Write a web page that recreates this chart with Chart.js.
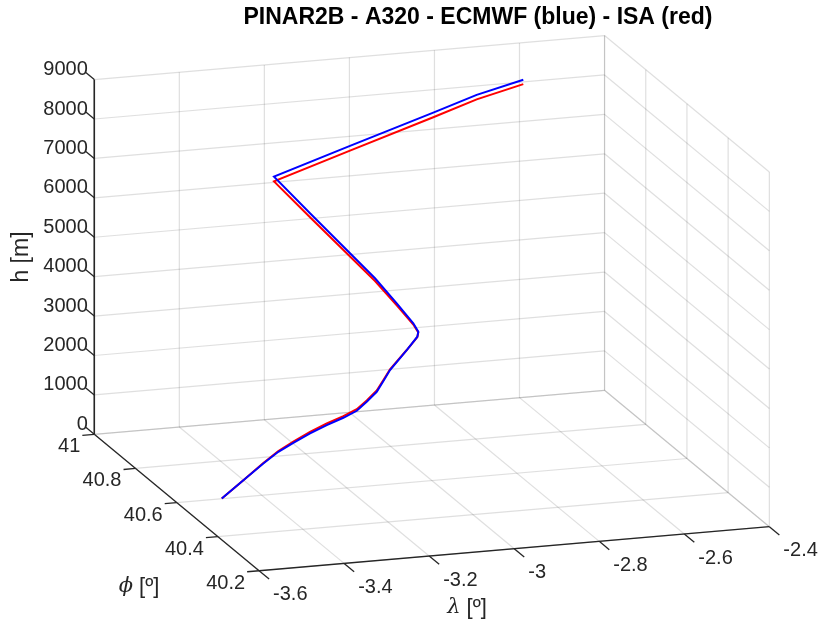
<!DOCTYPE html>
<html>
<head>
<meta charset="utf-8">
<script src="https://cdn.jsdelivr.net/npm/chart.js@4.4.0/dist/chart.umd.min.js"></script>
<style>
  html, body { margin: 0; padding: 0; background: #fff; }
  #wrap { width: 821px; height: 624px; }
</style>
</head>
<body>
<div id="wrap"><canvas id="c" width="821" height="624"></canvas></div>
<script>
// PINAR2B departure, A320 - longitude [deg], latitude [deg], altitude [m]
const lambdaDeg = [-3.5574, -3.4967, -3.4416, -3.4000, -3.3652, -3.3257, -3.2890, -3.2501, -3.2187,
  -3.1946, -3.1678, -3.1424, -3.1242, -3.0777, -3.0513, -3.0465, -3.0558, -3.0751, -3.0976, -3.1270,
  -3.1701, -3.2134, -3.0435, -2.8564, -2.7589, -2.6616];
const phiDeg = [40.4691, 40.4895, 40.5064, 40.5193, 40.5184, 40.5188, 40.5134, 40.5132, 40.5129,
  40.5143, 40.5210, 40.5380, 40.5465, 40.5614, 40.5644, 40.5696, 40.5747, 40.6152, 40.6743, 40.7349,
  40.8402, 40.9256, 40.9074, 40.8893, 40.8798, 40.8544];
const hEcmwf = [630, 950, 1250, 1450, 1650, 1850, 2050, 2200, 2350, 2550, 2750, 2950, 3150, 3550, 3850,
  3950, 4150, 4500, 4900, 5300, 5900, 6500, 7200, 7950, 8350, 8750];
const hIsa = [630, 950, 1260, 1470, 1680, 1890, 2090, 2240, 2390, 2580, 2780, 2975, 3170, 3550, 3840,
  3930, 4120, 4450, 4830, 5220, 5800, 6380, 7080, 7830, 8235, 8640];

const lambdaTicks = [-3.6, -3.4, -3.2, -3, -2.8, -2.6, -2.4];
const phiTicks = [40.2, 40.4, 40.6, 40.8, 41];
const hTicks = [0, 1000, 2000, 3000, 4000, 5000, 6000, 7000, 8000, 9000];

const titleText = 'PINAR2B - A320 - ECMWF (blue) - ISA (red)';

// view(az, el) like matlab, box normalised to a unit cube
const az = -17.9 * Math.PI / 180;
const el = 22 * Math.PI / 180;
const lamLim = [-3.6, -2.4];
const phiLim = [40.2, 41];
const hLim = [0, 9000];

function project(lam, phi, h) {
  const u = (lam - lamLim[0]) / (lamLim[1] - lamLim[0]) - 0.5;
  const v = (phi - phiLim[0]) / (phiLim[1] - phiLim[0]) - 0.5;
  const w = (h - hLim[0]) / (hLim[1] - hLim[0]) - 0.5;
  return {
    x: Math.cos(az) * u + Math.sin(az) * v,
    y: -Math.sin(el) * Math.sin(az) * u + Math.sin(el) * Math.cos(az) * v + Math.cos(el) * w
  };
}

function toPoints(hs) {
  return lambdaDeg.map((l, i) => project(l, phiDeg[i], hs[i]));
}

const FONT = '"Liberation Sans", Arial, Helvetica, sans-serif';
const TXT = '#262626';

const box3d = {
  id: 'box3d',
  beforeDatasetsDraw(chart) {
    const ctx = chart.ctx;
    const sx = chart.scales.x, sy = chart.scales.y;
    const px = (l, p, h) => {
      const q = project(l, p, h);
      return [sx.getPixelForValue(q.x), sy.getPixelForValue(q.y)];
    };
    const seg = (a, b) => {
      ctx.beginPath();
      ctx.moveTo(a[0], a[1]);
      ctx.lineTo(b[0], b[1]);
      ctx.stroke();
    };
    const l0 = lamLim[0], l1 = lamLim[1], p0 = phiLim[0], p1 = phiLim[1], h0 = hLim[0], h1 = hLim[1];

    ctx.save();
    ctx.strokeStyle = 'rgba(38,38,38,0.15)';
    ctx.lineWidth = 1.2;
    // back wall (phi max)
    lambdaTicks.forEach(l => seg(px(l, p1, h0), px(l, p1, h1)));
    hTicks.forEach(h => seg(px(l0, p1, h), px(l1, p1, h)));
    // right wall (lambda max)
    phiTicks.forEach(p => seg(px(l1, p, h0), px(l1, p, h1)));
    hTicks.forEach(h => seg(px(l1, p0, h), px(l1, p1, h)));
    // floor
    lambdaTicks.forEach(l => seg(px(l, p0, h0), px(l, p1, h0)));
    phiTicks.forEach(p => seg(px(l0, p, h0), px(l1, p, h0)));

    // axis lines
    ctx.strokeStyle = TXT;
    ctx.lineWidth = 1.3;
    seg(px(l0, p0, h0), px(l1, p0, h0));
    seg(px(l0, p0, h0), px(l0, p1, h0));
    ctx.lineWidth = 1.6;
    seg(px(l0, p1, h0), px(l0, p1, h1));
    ctx.lineWidth = 1.3;

    const unit = (a, b, len) => {
      const dx = b[0] - a[0], dy = b[1] - a[1];
      const n = Math.hypot(dx, dy);
      return [dx / n * len, dy / n * len];
    };
    const dNegLam = unit(px(l1, p0, h0), px(l0, p0, h0), 12);
    const dNegPhi = unit(px(l0, p1, h0), px(l0, p0, h0), 13);
    const dPosPhi = unit(px(l0, p0, h0), px(l0, p1, h0), 11);

    ctx.font = '20px ' + FONT;
    ctx.fillStyle = TXT;
    ctx.textBaseline = 'middle';

    // lambda ticks
    ctx.textAlign = 'left';
    lambdaTicks.forEach(l => {
      const a = px(l, p0, h0);
      seg(a, [a[0] + dNegPhi[0], a[1] + dNegPhi[1]]);
      ctx.fillText(String(l), a[0] + 14, a[1] + 24);
    });
    // phi ticks
    ctx.textAlign = 'right';
    phiTicks.forEach(p => {
      const a = px(l0, p, h0);
      seg(a, [a[0] + dNegLam[0], a[1] + dNegLam[1]]);
      ctx.fillText(String(p), a[0] - 14, a[1] + 12.5);
    });
    // h ticks
    hTicks.forEach(h => {
      const a = px(l0, p1, h);
      seg(a, [a[0] + dPosPhi[0], a[1] + dPosPhi[1]]);
      ctx.fillText(String(h), a[0] - 6.5, a[1] - 10);
    });

    // axis titles
    const drawLabel = (greek, rest, cx, cy) => {
      const gFont = 'italic 21px "DejaVu Serif", "Liberation Serif", serif';
      const rFont = '22px ' + FONT;
      ctx.font = gFont;
      const gw = ctx.measureText(greek).width;
      ctx.font = rFont;
      const rw = ctx.measureText(rest).width;
      const x = cx - (gw + rw) / 2;
      ctx.textAlign = 'left';
      ctx.font = gFont;
      ctx.fillText(greek, x, cy);
      ctx.font = rFont;
      ctx.fillText(rest, x + gw, cy);
    };
    drawLabel('\u03d5', ' [\u00ba]', 139, 587);
    drawLabel('\u03bb', ' [\u00ba]', 467, 608);

    ctx.save();
    ctx.translate(22, 257);
    ctx.rotate(-Math.PI / 2);
    ctx.textAlign = 'center';
    ctx.font = '23px ' + FONT;
    ctx.fillText('h [m]', 0, 0);
    ctx.restore();

    // title
    ctx.fillStyle = '#000';
    ctx.font = 'bold 23px ' + FONT;
    ctx.textAlign = 'center';
    ctx.fillText(titleText, 478, 18);
    ctx.restore();
  }
};

new Chart(document.getElementById('c'), {
  type: 'scatter',
  data: {
    datasets: [
      {
        label: 'ECMWF',
        data: toPoints(hEcmwf),
        showLine: true,
        borderColor: '#0000ff',
        borderWidth: 2,
        pointRadius: 0,
        tension: 0
      },
      {
        label: 'ISA',
        data: toPoints(hIsa),
        showLine: true,
        borderColor: '#ff0000',
        borderWidth: 2,
        pointRadius: 0,
        tension: 0
      }
    ]
  },
  options: {
    responsive: false,
    animation: false,
    devicePixelRatio: 1,
    layout: { padding: 0 },
    scales: {
      x: { type: 'linear', display: false, min: -0.8053, max: 0.7258 },
      y: { type: 'linear', display: false, min: -0.8386, max: 0.7923 }
    },
    plugins: {
      legend: { display: false },
      tooltip: { enabled: false },
      title: { display: false }
    }
  },
  plugins: [box3d]
});
</script>
</body>
</html>
